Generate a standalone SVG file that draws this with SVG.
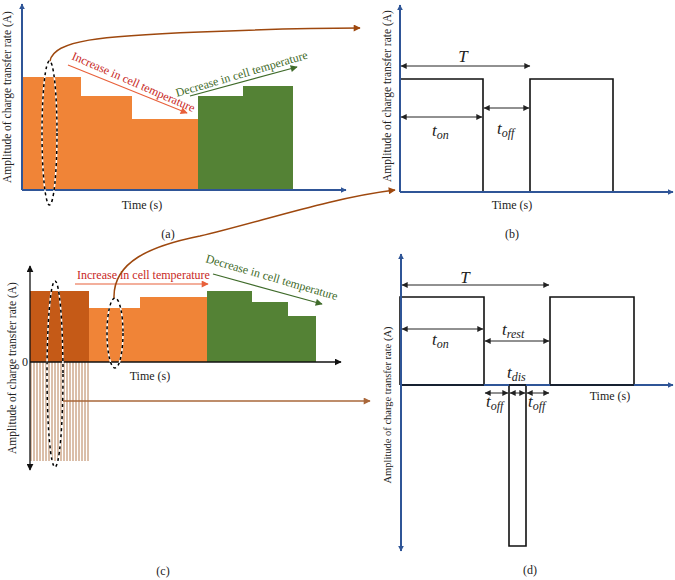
<svg xmlns="http://www.w3.org/2000/svg" width="675" height="580" viewBox="0 0 675 580">
<style>
text{font-family:"Liberation Serif","Times New Roman",serif;fill:#222}
.lbl{font-size:12px}
.ylbl{font-size:11.5px}
.m{font-style:italic;font-size:17px}
.s{font-size:12px}
.axis{stroke:#2f5597;stroke-width:2;fill:none}
.pulse{stroke:#111;stroke-width:1.6;fill:none}
.dim{stroke:#222;stroke-width:1;marker-start:url(#dh);marker-end:url(#dh)}
.dash{fill:none;stroke:#000;stroke-width:1.5;stroke-dasharray:3 3}
.dashw{fill:none;stroke:#fff;stroke-width:1.5}
.conn{fill:none;stroke:#9e480e;stroke-width:1.5}
</style>
<defs>
<marker id="ab" viewBox="0 0 10 10" refX="9" refY="5" markerWidth="6" markerHeight="6" orient="auto-start-reverse" markerUnits="userSpaceOnUse"><path d="M0,0 L10,5 L0,10 z" fill="#2f5597"/></marker>
<marker id="ak" viewBox="0 0 10 10" refX="9" refY="5" markerWidth="7" markerHeight="7" orient="auto-start-reverse" markerUnits="userSpaceOnUse"><path d="M0,0 L10,5 L0,10 z" fill="#111"/></marker>
<marker id="dh" viewBox="0 0 10 10" refX="9.5" refY="5" markerWidth="7" markerHeight="6" orient="auto-start-reverse" markerUnits="userSpaceOnUse"><path d="M0,0 L10,5 L0,10 z" fill="#222"/></marker>
<marker id="abr" viewBox="0 0 10 10" refX="9" refY="5" markerWidth="8" markerHeight="7" orient="auto" markerUnits="userSpaceOnUse"><path d="M0,0 L10,5 L0,10 z" fill="#9e480e"/></marker>
<marker id="abr2" viewBox="0 0 10 10" refX="9" refY="5" markerWidth="8" markerHeight="7" orient="auto" markerUnits="userSpaceOnUse"><path d="M0,0 L10,5 L0,10 z" fill="#a9673a"/></marker>
<marker id="ar" viewBox="0 0 10 10" refX="9" refY="5" markerWidth="8" markerHeight="7" orient="auto" markerUnits="userSpaceOnUse"><path d="M0,0 L10,5 L0,10 z" fill="#e8603a"/></marker>
<marker id="ag" viewBox="0 0 10 10" refX="9" refY="5" markerWidth="8" markerHeight="7" orient="auto" markerUnits="userSpaceOnUse"><path d="M0,0 L10,5 L0,10 z" fill="#3f6b2a"/></marker>
</defs>

<!-- Panel (a) -->
<g id="panel-a">
<path d="M22,190 V77 H81 V96 H132 V119 H198 V190 Z" fill="#f08437"/>
<path d="M198,190 V96 H243 V86 H293 V190 Z" fill="#548235"/>
<line class="axis" x1="22" y1="190" x2="22" y2="4" marker-end="url(#ab)"/>
<line class="axis" x1="22" y1="190" x2="346" y2="190" marker-end="url(#ab)"/>
<text class="ylbl" transform="translate(11,97) rotate(-90)" text-anchor="middle">Amplitude of charge transfer rate (A)</text>
<text class="lbl" x="142" y="209" text-anchor="middle">Time (s)</text>
<text class="lbl" x="168" y="238" text-anchor="middle">(a)</text>
<text transform="translate(71,59) rotate(23.6)" font-size="12" style="fill:#c8281e">Increase in cell temperature</text>
<line x1="68" y1="65" x2="187" y2="113" stroke="#e8603a" stroke-width="1.2" marker-end="url(#ar)"/>
<text transform="translate(177,97) rotate(-16.4)" font-size="12" style="fill:#3f6b2a">Decrease in cell temperature</text>
<line x1="190" y1="96" x2="297" y2="67" stroke="#3f6b2a" stroke-width="1.2" marker-end="url(#ag)"/>
<ellipse class="dashw" cx="49.5" cy="133" rx="7.5" ry="72"/>
<ellipse class="dash" cx="49.5" cy="133" rx="7.5" ry="72"/>
</g>

<!-- Panel (b) -->
<g id="panel-b">
<path class="pulse" d="M400,192 V79 H483 V192 M530,192 V79 H613 V192"/>
<line class="axis" x1="400" y1="192" x2="400" y2="5" marker-end="url(#ab)"/>
<line class="axis" x1="400" y1="192" x2="673" y2="192" marker-end="url(#ab)"/>
<line class="dim" x1="401" y1="66" x2="530" y2="66"/>
<line class="dim" x1="401" y1="117" x2="482" y2="117"/>
<line class="dim" x1="484" y1="108" x2="529" y2="108"/>
<text class="m" x="463" y="62" text-anchor="middle">T</text>
<text class="m" x="432" y="136">t<tspan class="s" dy="3">on</tspan></text>
<text class="m" x="497" y="134">t<tspan class="s" dy="3">off</tspan></text>
<text class="ylbl" transform="translate(391,96) rotate(-90)" text-anchor="middle">Amplitude of charge transfer rate (A)</text>
<text class="lbl" x="512" y="209" text-anchor="middle">Time (s)</text>
<text class="lbl" x="512" y="238" text-anchor="middle">(b)</text>
</g>

<!-- Panel (c) -->
<g id="panel-c">
<g stroke="#b67e55" stroke-width="1">
<line x1="31" y1="362" x2="31" y2="461"/><line x1="34" y1="362" x2="34" y2="461"/><line x1="37" y1="362" x2="37" y2="461"/><line x1="40" y1="362" x2="40" y2="461"/><line x1="43" y1="362" x2="43" y2="461"/><line x1="46" y1="362" x2="46" y2="461"/><line x1="49" y1="362" x2="49" y2="461"/><line x1="52" y1="362" x2="52" y2="461"/><line x1="55" y1="362" x2="55" y2="461"/><line x1="58" y1="362" x2="58" y2="461"/><line x1="61" y1="362" x2="61" y2="461"/><line x1="64" y1="362" x2="64" y2="461"/><line x1="67" y1="362" x2="67" y2="461"/><line x1="70" y1="362" x2="70" y2="461"/><line x1="73" y1="362" x2="73" y2="461"/><line x1="76" y1="362" x2="76" y2="461"/><line x1="79" y1="362" x2="79" y2="461"/><line x1="82" y1="362" x2="82" y2="461"/><line x1="85" y1="362" x2="85" y2="461"/><line x1="88" y1="362" x2="88" y2="461"/>
</g>
<rect x="30" y="291" width="59" height="71" fill="#c55a17"/>
<path d="M89,362 V308 H140 V297 H207 V362 Z" fill="#f08437"/>
<path d="M207,362 V291 H252 V302 H288 V316 H316 V362 Z" fill="#548235"/>
<line x1="30" y1="362" x2="30" y2="266" stroke="#111" stroke-width="1.3" marker-end="url(#ak)"/>
<line x1="30" y1="362" x2="30" y2="470" stroke="#111" stroke-width="1.3" marker-end="url(#ak)"/>
<line x1="30" y1="362" x2="341" y2="362" stroke="#111" stroke-width="1.3" marker-end="url(#ak)"/>
<text class="lbl" x="25" y="366" text-anchor="middle">0</text>
<text class="ylbl" transform="translate(16,368) rotate(-90)" text-anchor="middle">Amplitude of charge transfer rate (A)</text>
<text class="lbl" x="150" y="380" text-anchor="middle">Time (s)</text>
<text class="lbl" x="163" y="575" text-anchor="middle">(c)</text>
<text x="77" y="279" font-size="12" style="fill:#c8281e">Increase in cell temperature</text>
<line x1="75" y1="284" x2="208" y2="284" stroke="#e8603a" stroke-width="1.2" marker-end="url(#ar)"/>
<text transform="translate(205,262) rotate(16.2)" font-size="12" style="fill:#3f6b2a">Decrease in cell temperature</text>
<line x1="213" y1="274" x2="322" y2="304" stroke="#3f6b2a" stroke-width="1.2" marker-end="url(#ag)"/>
<ellipse class="dashw" cx="55" cy="374" rx="8" ry="93"/>
<ellipse class="dash" cx="55" cy="374" rx="8" ry="93"/>
<ellipse class="dashw" cx="115" cy="333" rx="8" ry="35"/>
<ellipse class="dash" cx="115" cy="333" rx="8" ry="35"/>
</g>

<!-- Panel (d) -->
<g id="panel-d">
<path class="pulse" d="M400,385 V297 H484 V385 M550,385 V297 H634 V385 M509,385 V546 H526 V385"/>
<line class="axis" x1="401" y1="385" x2="401" y2="254" marker-end="url(#ab)"/>
<line class="axis" x1="401" y1="385" x2="401" y2="551" marker-end="url(#ab)"/>
<line class="axis" x1="401" y1="385" x2="673" y2="385" marker-end="url(#ab)"/>
<path class="pulse" d="M402,385 H484 M550,385 H634 M509,385 H526"/>
<line class="dim" x1="402" y1="285" x2="549" y2="285"/>
<line class="dim" x1="402" y1="329" x2="483" y2="329"/>
<line class="dim" x1="485" y1="341" x2="549" y2="341"/>
<line class="dim" x1="485" y1="393" x2="508" y2="393"/>
<line class="dim" x1="510" y1="393" x2="525" y2="393"/>
<line class="dim" x1="527" y1="393" x2="549" y2="393"/>
<text class="m" x="465" y="283" text-anchor="middle">T</text>
<text class="m" x="432" y="345">t<tspan class="s" dy="3">on</tspan></text>
<text class="m" x="502" y="335">t<tspan class="s" dy="3">rest</tspan></text>
<text class="m" x="507" y="378">t<tspan class="s" dy="3">dis</tspan></text>
<text class="m" x="486" y="407">t<tspan class="s" dy="3">off</tspan></text>
<text class="m" x="528" y="407">t<tspan class="s" dy="3">off</tspan></text>
<text class="ylbl" transform="translate(391,405) rotate(-90)" text-anchor="middle" style="font-size:10.5px">Amplitude of charge transfer rate (A)</text>
<text class="lbl" x="610" y="400" text-anchor="middle">Time (s)</text>
<text class="lbl" x="530" y="574" text-anchor="middle">(d)</text>
</g>

<!-- Connectors -->
<g id="connectors">
<path class="conn" d="M50,61 C54,40 100,36 200,32 C270,29 320,28 360,28" marker-end="url(#abr)"/>
<path class="conn" d="M114,298 C113,262 150,246 200,236 C260,222 330,198 395,190" marker-end="url(#abr)"/>
<line x1="63" y1="401" x2="370" y2="401" stroke="#a9673a" stroke-width="1.5" marker-end="url(#abr2)"/>
</g>
</svg>
